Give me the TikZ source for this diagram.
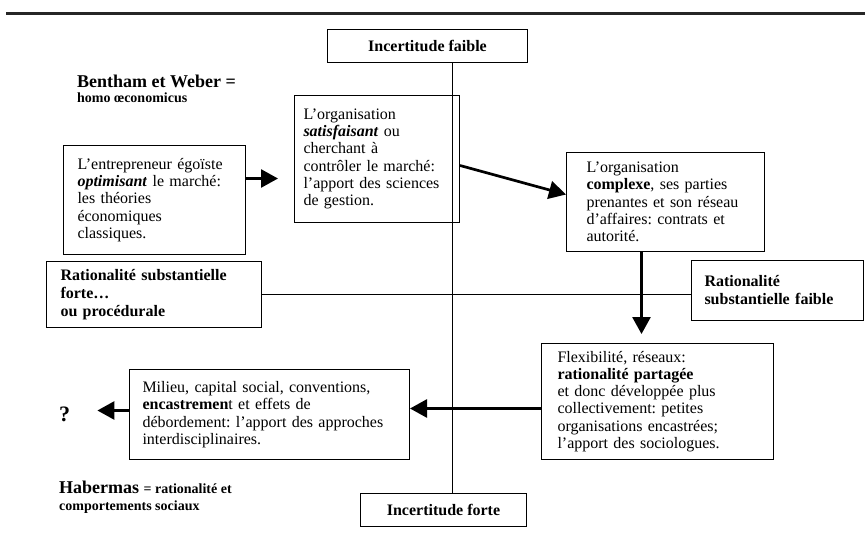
\documentclass[tikz,border=0pt]{standalone}
\usepackage{fontspec}
\setmainfont{Liberation Serif}
\usetikzlibrary{arrows.meta}
\newcommand{\bi}[1]{\textbf{\textit{#1}}}
\frenchspacing

\begin{document}
\begin{tikzpicture}[x=1pt,y=-1pt,
		box/.style={draw, line width=1pt, anchor=north west, inner sep=0pt, align=left, font=\fontsize{16}{17.3}\selectfont},
		titre/.style={box, align=center, font=\bfseries\fontsize{16}{18}\selectfont},
		big/.style={inner sep=0pt, anchor=base west, font=\bfseries\fontsize{18}{20}\selectfont},
		small/.style={inner sep=0pt, anchor=base west, font=\bfseries\fontsize{14}{16}\selectfont},
		axe/.style={line width=1pt},
		fleche/.style={line width=2.7pt, -{Triangle[length=17pt,width=18pt]}}]
		\useasboundingbox (0,0) rectangle (865,549);
		\draw[line width=3pt, black!85] (6,13) -- (865,13);
		% axes
		\node[titre, minimum width=200pt, minimum height=33pt] (faible) at (327,29) {Incertitude faible};
		\node[titre, minimum width=166pt, minimum height=33pt] (forte) at (360,493) {Incertitude forte};
		\node[box, font=\bfseries\fontsize{16}{18}\selectfont, minimum width=215pt, minimum height=66pt, text width=187pt] (forteR) at (46,261) {Rationalité substantielle\\ forte…\\ ou procédurale};
		\node[box, font=\bfseries\fontsize{16}{18}\selectfont, minimum width=172pt, minimum height=60pt, text width=146pt] (faibleR) at (691,260) {Rationalité\\ substantielle faible};
		\draw[axe] ([xshift=25pt]faible.south) -- ([xshift=9pt]forte.north);
		\draw[axe] (forteR.east) -- (forteR.east -| faibleR.west);
		% boxes
		\node[box, minimum width=182pt, minimum height=109pt, text width=154pt] (entr) at (63,145) {L'entrepreneur égoïste\\ \bi{optimisant} le marché:\\ les théories\\ économiques\\ classiques.};
		\node[box, minimum width=165pt, minimum height=127pt, text width=147pt] (orga) at (294,95) {L'organisation\\ \bi{satisfaisant} ou\\ cherchant à\\ contrôler le marché:\\ l'apport des sciences\\ de gestion.};
		\node[box, minimum width=198pt, minimum height=99pt, text width=158pt] (comp) at (566,152) {L'organisation\\ \textbf{complexe}, ses parties\\ prenantes et son réseau\\ d'affaires: contrats et\\ autorité.};
		\node[box, minimum width=232pt, minimum height=116pt, text width=200pt] (flex) at (541,343) {Flexibilité, réseaux:\\ \textbf{rationalité partagée}\\ et donc développée plus\\ collectivement: petites\\ organisations encastrées;\\ l'apport des sociologues.};
		\node[box, minimum width=280pt, minimum height=90pt, text width=254pt] (milieu) at (129,369) {Milieu, capital social, conventions,\\ \textbf{encastremen}t et effets de\\ débordement: l'apport des approches\\ interdisciplinaires.};
		% labels
		\node[big] (bentham) at (77,87) {Bentham et Weber =};
		\node[small] (homo) at (77,102) {homo œconomicus};
		\node[big] (habermas) at (59,493) {Habermas {\fontsize{14}{16}\selectfont = rationalité et}};
		\node[small] (comport) at (59,510) {comportements sociaux};
		\node[big, font=\bfseries\fontsize{22}{24}\selectfont] (q) at (59,421) {?};
		% arrows
		\draw[fleche, shorten >=16pt] ([yshift=21.5pt]entr.east) -- ([yshift=21.5pt]entr.east -| orga.west);
		\draw[fleche] ([yshift=-6.5pt]orga.east) -- ([yshift=7.5pt]comp.west);
		\draw[fleche, shorten >=9pt] ([xshift=-24pt]comp.south) -- ([xshift=-24pt]comp.south |- flex.north);
		\draw[fleche] ([yshift=-7pt]flex.west) -- ([yshift=-7pt]flex.west -| milieu.east);
		\draw[fleche, shorten >=27pt] ([yshift=4pt]milieu.west) -- ([yshift=4pt]milieu.west -| q.east);
	\end{tikzpicture}
\end{document}
